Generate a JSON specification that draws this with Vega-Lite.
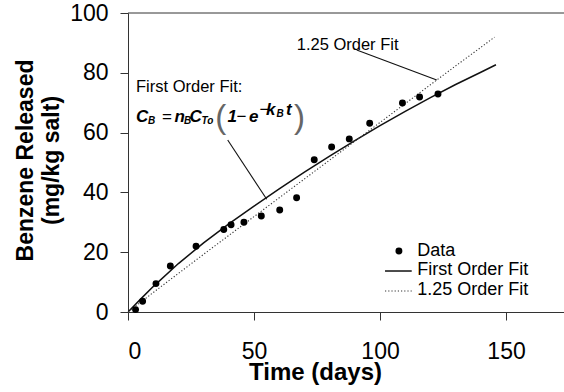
{
  "$schema": "https://vega.github.io/schema/vega-lite/v6.json",
  "width": 436,
  "height": 299,
  "autosize": "none",
  "padding": {"left": 128, "top": 13, "right": 0, "bottom": 80},
  "background": "white",
  "config": {
    "font": "Liberation Sans",
    "view": {"stroke": null},
    "axis": {
      "grid": false,
      "domainColor": "#333",
      "tickColor": "#333",
      "tickSize": 8,
      "labelColor": "black",
      "labelFont": "Liberation Sans",
      "labelFontSize": 23,
      "titleFont": "Liberation Sans",
      "titleFontWeight": "bold",
      "titleColor": "black"
    }
  },
  "datasets": {
    "points": [
      {"x": 3.0, "y": 0.8}, {"x": 5.8, "y": 3.6}, {"x": 11.1, "y": 9.5}, {"x": 16.8, "y": 15.4},
      {"x": 27.0, "y": 22.0}, {"x": 38.0, "y": 27.6}, {"x": 40.9, "y": 29.2}, {"x": 46.0, "y": 30.0},
      {"x": 52.9, "y": 32.1}, {"x": 60.2, "y": 34.1}, {"x": 66.9, "y": 38.2}, {"x": 73.9, "y": 50.9},
      {"x": 80.8, "y": 55.2}, {"x": 87.8, "y": 57.9}, {"x": 95.9, "y": 63.1}, {"x": 108.9, "y": 69.9},
      {"x": 115.7, "y": 71.9}, {"x": 123.0, "y": 72.9}
    ],
    "fit1": [
      {"x": 0, "y": 0}, {"x": 5, "y": 4.3}, {"x": 10, "y": 8.5}, {"x": 20, "y": 16.2},
      {"x": 30, "y": 23.1}, {"x": 40, "y": 29.5}, {"x": 50, "y": 35.4}, {"x": 60, "y": 41.2},
      {"x": 70, "y": 46.8}, {"x": 80, "y": 52.1}, {"x": 90, "y": 57.3}, {"x": 100, "y": 62.3},
      {"x": 110, "y": 67.1}, {"x": 120, "y": 71.7}, {"x": 130, "y": 76.1}, {"x": 140, "y": 80.2},
      {"x": 146, "y": 82.7}
    ],
    "fit125": [
      {"x": 0, "y": 0}, {"x": 10, "y": 6.5}, {"x": 20, "y": 12.9}, {"x": 30, "y": 19.3},
      {"x": 40, "y": 25.6}, {"x": 50, "y": 31.9}, {"x": 60, "y": 38.2}, {"x": 70, "y": 44.5},
      {"x": 80, "y": 50.8}, {"x": 90, "y": 57.1}, {"x": 100, "y": 63.4}, {"x": 110, "y": 69.7},
      {"x": 120, "y": 76.0}, {"x": 130, "y": 82.3}, {"x": 140, "y": 88.5}, {"x": 145.4, "y": 91.9}
    ],
    "notes": [
      {"x": 3.17, "y": 73.58, "s": "First Order Fit:"},
      {"x": 66.94, "y": 87.63, "s": "1.25 Order Fit"}
    ],
    "leaders": [
      {"x": 39.56, "y": 57.53, "x2": 55.04, "y2": 37.69},
      {"x": 90.75, "y": 87.63, "x2": 122.5, "y2": 77.59}
    ],
    "eqMain": [
      {"x": 3.17, "y": 63.55, "s": "C"},
      {"x": 18.45, "y": 63.55, "s": "n"},
      {"x": 24.4, "y": 63.55, "s": "C"},
      {"x": 39.48, "y": 63.55, "s": "1"},
      {"x": 48.02, "y": 63.55, "s": "e"},
      {"x": 54.76, "y": 65.89, "s": "k"},
      {"x": 62.7, "y": 65.89, "s": "t"}
    ],
    "eqSub": [
      {"x": 7.94, "y": 62.88, "s": "B"},
      {"x": 22.22, "y": 62.88, "s": "B"},
      {"x": 29.17, "y": 62.88, "s": "To"},
      {"x": 58.93, "y": 65.22, "s": "B"}
    ],
    "eqOp": [
      {"x": 13.49, "y": 63.55, "s": "="},
      {"x": 43.06, "y": 63.55, "s": "−"},
      {"x": 52.18, "y": 65.89, "s": "−"}
    ],
    "eqParen": [
      {"x": 34.6, "y": 61.57, "s": "("},
      {"x": 65.9, "y": 61.57, "s": ")"}
    ],
    "legDot": [{"x": 107.5, "y": 20.4}],
    "legSolid": [{"x": 101.98, "x2": 112.58, "y": 13.71}],
    "legDotted": [{"x": 101.98, "x2": 112.58, "y": 7.02}],
    "legText": [
      {"x": 114.8, "y": 18.73, "s": "Data"},
      {"x": 114.8, "y": 12.37, "s": "First Order Fit"},
      {"x": 114.8, "y": 5.69, "s": "1.25 Order Fit"}
    ]
  },
  "layer": [
    {
      "data": {"name": "fit1"},
      "mark": {"type": "line", "color": "#111", "strokeWidth": 1.5, "clip": true},
      "encoding": {
        "x": {
          "field": "x", "type": "quantitative",
          "scale": {"domain": [0, 173], "nice": false, "zero": false},
          "axis": {
            "values": [0, 50, 100, 150],
            "labelPadding": 20,
            "title": "Time (days)",
            "titleFontSize": 24,
            "titleX": 187,
            "titleY": 67,
            "titleBaseline": "alphabetic",
            "titleAlign": "center"
          }
        },
        "y": {
          "field": "y", "type": "quantitative",
          "scale": {"domain": [0, 100], "nice": false},
          "axis": {
            "values": [0, 20, 40, 60, 80, 100],
            "labelPadding": 12,
            "title": ["Benzene Released", "(mg/kg salt)"],
            "titleFontSize": 23,
            "titleLineHeight": 26,
            "titleAngle": -90,
            "titleX": -96,
            "titleY": 147,
            "titleBaseline": "alphabetic",
            "titleAlign": "center"
          }
        }
      }
    },
    {
      "data": {"name": "fit125"},
      "mark": {"type": "line", "color": "#333", "strokeWidth": 1.1, "strokeDash": [1.2, 2]},
      "encoding": {
        "x": {"field": "x", "type": "quantitative"},
        "y": {"field": "y", "type": "quantitative"}
      }
    },
    {
      "data": {"name": "points"},
      "mark": {"type": "point", "filled": true, "color": "black", "opacity": 1, "size": 48},
      "encoding": {
        "x": {"field": "x", "type": "quantitative"},
        "y": {"field": "y", "type": "quantitative"}
      }
    },
    {
      "data": {"values": [{"y": 100}]},
      "mark": {"type": "rule", "color": "#333", "strokeWidth": 1},
      "encoding": {"y": {"field": "y", "type": "quantitative"}}
    },
    {
      "data": {"name": "leaders"},
      "mark": {"type": "rule", "color": "#111", "strokeWidth": 1.1},
      "encoding": {
        "x": {"field": "x", "type": "quantitative"},
        "y": {"field": "y", "type": "quantitative"},
        "x2": {"field": "x2"},
        "y2": {"field": "y2"}
      }
    },
    {
      "data": {"name": "notes"},
      "mark": {"type": "text", "align": "left", "baseline": "alphabetic", "fontSize": 16.5, "color": "black"},
      "encoding": {
        "x": {"field": "x", "type": "quantitative"},
        "y": {"field": "y", "type": "quantitative"},
        "text": {"field": "s"}
      }
    },
    {
      "data": {"name": "eqMain"},
      "mark": {"type": "text", "align": "left", "baseline": "alphabetic", "fontSize": 17, "fontWeight": "bold", "fontStyle": "italic", "color": "black"},
      "encoding": {
        "x": {"field": "x", "type": "quantitative"},
        "y": {"field": "y", "type": "quantitative"},
        "text": {"field": "s"}
      }
    },
    {
      "data": {"name": "eqSub"},
      "mark": {"type": "text", "align": "left", "baseline": "alphabetic", "fontSize": 10, "fontWeight": "bold", "fontStyle": "italic", "color": "black"},
      "encoding": {
        "x": {"field": "x", "type": "quantitative"},
        "y": {"field": "y", "type": "quantitative"},
        "text": {"field": "s"}
      }
    },
    {
      "data": {"name": "eqOp"},
      "mark": {"type": "text", "align": "left", "baseline": "alphabetic", "fontSize": 17, "color": "black"},
      "encoding": {
        "x": {"field": "x", "type": "quantitative"},
        "y": {"field": "y", "type": "quantitative"},
        "text": {"field": "s"}
      }
    },
    {
      "data": {"name": "eqParen"},
      "mark": {"type": "text", "align": "left", "baseline": "alphabetic", "fontSize": 33, "fontWeight": "normal", "color": "#666"},
      "encoding": {
        "x": {"field": "x", "type": "quantitative"},
        "y": {"field": "y", "type": "quantitative"},
        "text": {"field": "s"}
      }
    },
    {
      "data": {"name": "legDot"},
      "mark": {"type": "point", "filled": true, "color": "black", "opacity": 1, "size": 48},
      "encoding": {
        "x": {"field": "x", "type": "quantitative"},
        "y": {"field": "y", "type": "quantitative"}
      }
    },
    {
      "data": {"name": "legSolid"},
      "mark": {"type": "rule", "color": "#111", "strokeWidth": 1.5},
      "encoding": {
        "x": {"field": "x", "type": "quantitative"},
        "x2": {"field": "x2"},
        "y": {"field": "y", "type": "quantitative"}
      }
    },
    {
      "data": {"name": "legDotted"},
      "mark": {"type": "rule", "color": "#333", "strokeWidth": 1.1, "strokeDash": [1.2, 2]},
      "encoding": {
        "x": {"field": "x", "type": "quantitative"},
        "x2": {"field": "x2"},
        "y": {"field": "y", "type": "quantitative"}
      }
    },
    {
      "data": {"name": "legText"},
      "mark": {"type": "text", "align": "left", "baseline": "alphabetic", "fontSize": 18, "color": "black"},
      "encoding": {
        "x": {"field": "x", "type": "quantitative"},
        "y": {"field": "y", "type": "quantitative"},
        "text": {"field": "s"}
      }
    }
  ]
}
